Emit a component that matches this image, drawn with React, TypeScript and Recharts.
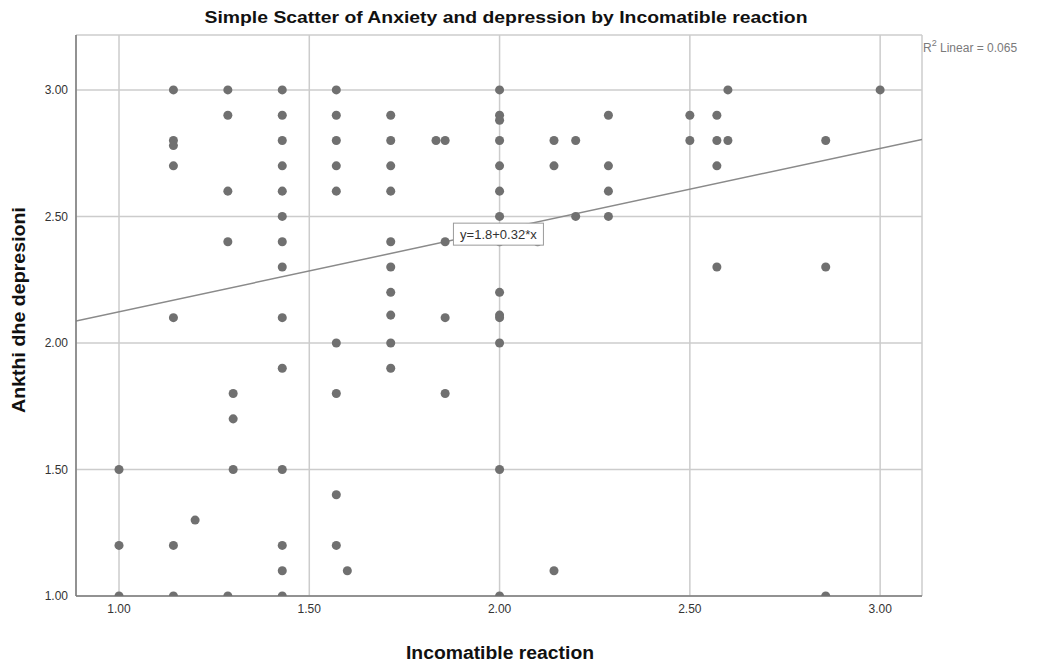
import React from "react"
import {
  ScatterChart,
  Scatter,
  XAxis,
  YAxis,
  ZAxis,
  CartesianGrid,
  ReferenceLine,
  ReferenceDot,
} from "recharts"

// Incomatible reaction (x) / Ankthi dhe depresioni (y)
const xValues = [
  1.0, 1.0, 1.0,
  1.143, 1.143, 1.143, 1.143, 1.143, 1.143, 1.143,
  1.2,
  1.286, 1.286, 1.286, 1.286, 1.286,
  1.3, 1.3, 1.3,
  1.429, 1.429, 1.429, 1.429, 1.429, 1.429, 1.429, 1.429, 1.429, 1.429, 1.429, 1.429, 1.429, 1.429,
  1.571, 1.571, 1.571, 1.571, 1.571, 1.571, 1.571, 1.571, 1.571,
  1.6,
  1.714, 1.714, 1.714, 1.714, 1.714, 1.714, 1.714, 1.714, 1.714, 1.714,
  1.833,
  1.857, 1.857, 1.857, 1.857,
  2.0, 2.0, 2.0, 2.0, 2.0, 2.0, 2.0, 2.0, 2.0, 2.0, 2.0, 2.0, 2.0, 2.0,
  2.1,
  2.143, 2.143, 2.143,
  2.2, 2.2,
  2.286, 2.286, 2.286, 2.286,
  2.5, 2.5,
  2.571, 2.571, 2.571, 2.571,
  2.6, 2.6,
  2.857, 2.857, 2.857,
  3.0,
]
const yValues = [
  1.5, 1.2, 1.0,
  3.0, 2.8, 2.78, 2.7, 2.1, 1.2, 1.0,
  1.3,
  3.0, 2.9, 2.6, 2.4, 1.0,
  1.8, 1.7, 1.5,
  3.0, 2.9, 2.8, 2.7, 2.6, 2.5, 2.4, 2.3, 2.1, 1.9, 1.5, 1.2, 1.1, 1.0,
  3.0, 2.9, 2.8, 2.7, 2.6, 2.0, 1.8, 1.4, 1.2,
  1.1,
  2.9, 2.8, 2.7, 2.6, 2.4, 2.3, 2.2, 2.11, 2.0, 1.9,
  2.8,
  2.8, 2.4, 2.1, 1.8,
  3.0, 2.9, 2.88, 2.8, 2.7, 2.6, 2.5, 2.4, 2.2, 2.11, 2.1, 2.0, 1.5, 1.0,
  2.4,
  2.8, 2.7, 1.1,
  2.8, 2.5,
  2.9, 2.7, 2.6, 2.5,
  2.9, 2.8,
  2.9, 2.8, 2.7, 2.3,
  3.0, 2.8,
  2.8, 2.3, 1.0,
  3.0,
]
const tickValues = [1.0, 1.5, 2.0, 2.5, 3.0]

// fit line y = b0 + b1 * x
const intercept = 1.8
const slope = 0.323
const equationText = "y=1.8+0.32*x"
const rSquaredText = "0.065"

const X_DOMAIN: [number, number] = [0.887, 3.11]
const Y_DOMAIN: [number, number] = [1.0, 3.217]

const points = xValues.map((x, i) => ({ x, y: yValues[i] }))

const FONT = "'Liberation Sans', Arial, sans-serif"
const DOT = "#707070"

const EquationBox = (props: any) => {
  const { cx, cy } = props
  if (cx == null || cy == null) return null
  const w = 90
  const h = 22
  return (
    <g>
      <rect x={cx - w / 2} y={cy - h / 2} width={w} height={h} fill="#fff" stroke="#9a9a9a" strokeWidth={1} />
      <text x={cx} y={cy + 5} textAnchor="middle" fontSize={13} fill="#333" fontFamily={FONT}>
        {equationText}
      </text>
    </g>
  )
}

export default function App() {
  return (
    <div style={{ position: "absolute", left: 0, top: 0, width: 1044, height: 664, background: "#fff", fontFamily: FONT }}>
      <ScatterChart width={1044} height={664} margin={{ top: 35, right: 122, bottom: 38, left: 16 }}>
        <CartesianGrid stroke="#cccccc" strokeWidth={1.5} />
        <XAxis
          type="number"
          dataKey="x"
          domain={X_DOMAIN}
          ticks={tickValues}
          allowDataOverflow
          height={30}
          tickLine={false}
          axisLine={{ stroke: "#7a7a7a", strokeWidth: 1.5 }}
          tickFormatter={(v: number) => v.toFixed(2)}
          tick={{ fontSize: 12, fill: "#333", fontFamily: FONT }}
        />
        <YAxis
          type="number"
          dataKey="y"
          domain={Y_DOMAIN}
          ticks={tickValues}
          allowDataOverflow
          width={60}
          tickLine={false}
          axisLine={{ stroke: "#7a7a7a", strokeWidth: 1.5 }}
          tickFormatter={(v: number) => v.toFixed(2)}
          tick={{ fontSize: 12, fill: "#333", fontFamily: FONT }}
        />
        <ZAxis range={[64, 64]} />
        <Scatter data={points} fill={DOT} isAnimationActive={false} />
        <ReferenceLine
          segment={[
            { x: X_DOMAIN[0], y: intercept + slope * X_DOMAIN[0] },
            { x: X_DOMAIN[1], y: intercept + slope * X_DOMAIN[1] },
          ]}
          stroke="#8a8a8a"
          strokeWidth={1.5}
          ifOverflow="hidden"
        />
        <ReferenceDot x={1.997} y={2.43} shape={EquationBox} ifOverflow="visible" />
      </ScatterChart>
      <svg width={1044} height={664} style={{ position: "absolute", left: 0, top: 0, pointerEvents: "none" }}>
        <text x={506} y={23} textAnchor="middle" fontSize={17} fontWeight="bold" fill="#111" fontFamily={FONT} textLength={603} lengthAdjust="spacingAndGlyphs">
          Simple Scatter of Anxiety and depression by Incomatible reaction
        </text>
        <text x={500} y={659} textAnchor="middle" fontSize={18} fontWeight="bold" fill="#111" fontFamily={FONT} textLength={188} lengthAdjust="spacingAndGlyphs">
          Incomatible reaction
        </text>
        <text
          x={0}
          y={0}
          transform="translate(25,310) rotate(-90)"
          textAnchor="middle"
          fontSize={18}
          fontWeight="bold"
          fill="#111"
          fontFamily={FONT}
          textLength={206}
          lengthAdjust="spacingAndGlyphs"
        >
          Ankthi dhe depresioni
        </text>
        <text x={923} y={52} fontSize={12} fill="#7a7a7a" fontFamily={FONT}>
          R<tspan dy={-6} fontSize={9}>2</tspan>
          <tspan dy={6}> Linear = {rSquaredText}</tspan>
        </text>
      </svg>
    </div>
  )
}
